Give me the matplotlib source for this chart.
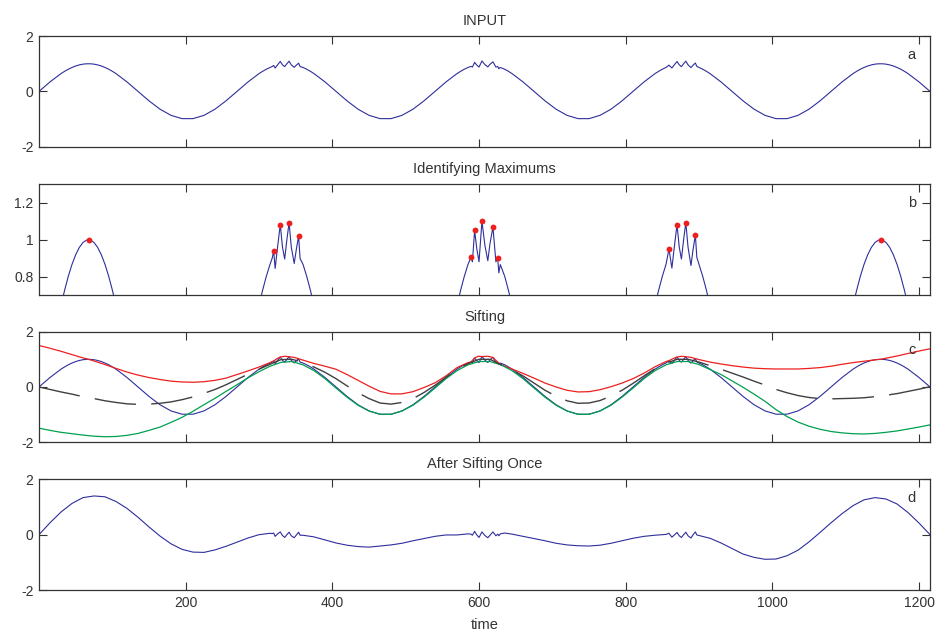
"""EMD sifting illustration: input, maxima, envelopes, result after one sift."""

import matplotlib
matplotlib.use("Agg")
import matplotlib.pyplot as plt

sig_t = [0, 15, 30, 35, 40, 45, 50, 55, 60, 65, 70, 75, 80, 85, 90, 95, 100, 105,
         120, 135, 150, 165, 180, 195, 210, 225, 240, 255, 270, 285,
         300, 305, 310, 315, 318, 320, 322, 325, 329, 332, 335, 338, 341, 344,
         348, 351, 354, 356, 360, 365, 370, 375,
         390, 405, 420, 435, 450, 465, 480, 495, 510, 525, 540, 555,
         570, 575, 580, 585, 589, 591, 594, 597, 600, 604, 608, 612, 615, 619,
         623, 625.5, 627, 629, 635, 640, 645,
         660, 675, 690, 705, 720, 735, 750, 765, 780, 795, 810, 825,
         840, 845, 850, 855, 859, 863, 866, 870, 873, 876, 879, 882, 885,
         889, 892, 895, 897, 900, 905, 910, 915,
         930, 945, 960, 975, 990, 1005, 1020, 1035, 1050, 1065, 1080, 1095,
         1110, 1115, 1120, 1125, 1130, 1135, 1140, 1145, 1150, 1155, 1160,
         1165, 1170, 1175, 1180, 1185, 1200, 1215]
sig_v = [0.000, 0.342, 0.643, 0.727, 0.802, 0.866, 0.918, 0.958, 0.985, 0.998,
         0.998, 0.985, 0.958, 0.918, 0.866, 0.802, 0.727, 0.643,
         0.342, 0.000, -0.342, -0.643, -0.866, -0.985, -0.985, -0.866, -0.643,
         -0.342, 0.000, 0.342,
         0.643, 0.727, 0.802, 0.866, 0.900, 0.938, 0.844, 0.950, 1.082, 0.960,
         0.895, 1.000, 1.093, 0.960, 0.871, 0.950, 1.019, 0.898, 0.866, 0.802,
         0.727, 0.643,
         0.342, 0.000, -0.342, -0.643, -0.866, -0.985, -0.985, -0.866, -0.643,
         -0.342, 0.000, 0.342,
         0.643, 0.727, 0.802, 0.866, 0.904, 0.880, 1.050, 0.950, 0.880, 1.100,
         0.970, 0.886, 0.980, 1.068, 0.880, 0.898, 0.820, 0.865, 0.802, 0.727,
         0.643,
         0.342, 0.000, -0.342, -0.643, -0.866, -0.985, -0.985, -0.866, -0.643,
         -0.342, 0.000, 0.342,
         0.643, 0.727, 0.802, 0.866, 0.949, 0.846, 0.950, 1.082, 0.960, 0.895,
         1.000, 1.093, 0.960, 0.860, 0.950, 1.026, 0.904, 0.866, 0.802, 0.727,
         0.643,
         0.342, 0.000, -0.342, -0.643, -0.866, -0.985, -0.985, -0.866, -0.643,
         -0.342, 0.000, 0.342,
         0.643, 0.727, 0.802, 0.866, 0.918, 0.958, 0.985, 0.998, 0.998, 0.985,
         0.958, 0.918, 0.866, 0.802, 0.727, 0.643, 0.342, 0.000]

# ---- local maxima (panel b) ----
max_t = [67.5, 320, 329, 341, 354, 589, 594, 604, 619, 625.5,
         859, 870, 882, 895, 1147.5]
max_v = [1.000, 0.938, 1.082, 1.093, 1.019, 0.904, 1.050, 1.100, 1.068, 0.898,
         0.949, 1.082, 1.093, 1.026, 1.000]

# ---- upper envelope (panel c, red) ----
upper_t = [0, 15, 30, 45, 60, 67.5, 75, 90, 105, 120, 135, 150, 165, 180, 195,
           210, 225, 240, 255, 270, 285, 300, 315, 320, 325, 329, 335, 341,
           348, 354, 360, 375, 390, 405, 420, 435, 450, 465, 480, 495, 510,
           525, 540, 555, 570, 585, 589, 594, 599, 604, 612, 619, 625.5, 630,
           645, 660, 675, 690, 705, 720, 735, 750, 765, 780, 795, 810, 825,
           840, 855, 859, 865, 870, 876, 882, 889, 895, 900, 915, 930, 945,
           960, 975, 990, 1005, 1020, 1035, 1050, 1065, 1080, 1095, 1110,
           1125, 1140, 1147.5, 1155, 1170, 1185, 1200, 1215]
upper_v = [1.50, 1.40, 1.29, 1.17, 1.05, 1.00, 0.94, 0.81, 0.67, 0.54, 0.43,
           0.34, 0.27, 0.21, 0.18, 0.17, 0.19, 0.24, 0.32, 0.45, 0.58, 0.72,
           0.88, 0.94, 1.03, 1.082, 1.11, 1.093, 1.07, 1.02, 0.97, 0.85, 0.75,
           0.64, 0.45, 0.24, 0.03, -0.16, -0.25, -0.25, -0.17, -0.02, 0.15,
           0.40, 0.70, 0.88, 0.904, 1.05, 1.11, 1.10, 1.11, 1.068, 0.898, 0.80,
           0.65, 0.49, 0.32, 0.14, 0.00, -0.12, -0.18, -0.17, -0.10, 0.01,
           0.14, 0.30, 0.50, 0.73, 0.92, 0.949, 1.03, 1.082, 1.11, 1.093, 1.07,
           1.026, 0.99, 0.90, 0.83, 0.77, 0.72, 0.68, 0.66, 0.65, 0.65, 0.65,
           0.67, 0.70, 0.75, 0.82, 0.88, 0.93, 0.98, 1.00, 1.04, 1.12, 1.21,
           1.30, 1.38]

# ---- lower envelope and mean (panel c, green / black dashed) ----
env_t = list(range(0, 1216, 15))
lower_v = [-1.49, -1.57, -1.64, -1.69, -1.74, -1.78, -1.80, -1.79, -1.75,
           -1.68, -1.57, -1.45, -1.28, -1.10, -0.88, -0.64, -0.41, -0.16,
           0.08, 0.33, 0.55, 0.75, 0.89, 0.92, 0.80, 0.59, 0.30, -0.04, -0.37,
           -0.66, -0.87, -0.99, -0.99, -0.87, -0.66, -0.37, -0.04, 0.30, 0.59,
           0.80, 0.92, 0.92, 0.80, 0.59, 0.30, -0.04, -0.37, -0.66, -0.87,
           -0.99, -0.99, -0.87, -0.66, -0.37, -0.04, 0.30, 0.59, 0.80, 0.92,
           0.92, 0.81, 0.63, 0.45, 0.22, -0.01, -0.26, -0.52, -0.82, -1.07,
           -1.27, -1.42, -1.53, -1.61, -1.66, -1.69, -1.70, -1.68, -1.64,
           -1.59, -1.52, -1.45, -1.37]
mean_v = [0.00, -0.09, -0.18, -0.26, -0.35, -0.42, -0.50, -0.56, -0.61, -0.63,
          -0.62, -0.59, -0.54, -0.46, -0.36, -0.23, -0.09, 0.08, 0.27, 0.46,
          0.64, 0.82, 0.99, 1.00, 0.89, 0.72, 0.53, 0.30, 0.04, -0.21, -0.42,
          -0.58, -0.62, -0.56, -0.42, -0.20, 0.06, 0.35, 0.65, 0.84, 1.00,
          1.00, 0.80, 0.62, 0.40, 0.14, -0.12, -0.33, -0.50, -0.59, -0.58,
          -0.49, -0.33, -0.12, 0.13, 0.40, 0.66, 0.86, 1.00, 1.00, 0.90, 0.77,
          0.64, 0.50, 0.36, 0.21, 0.07, -0.09, -0.21, -0.31, -0.38, -0.42,
          -0.43, -0.42, -0.41, -0.39, -0.35, -0.30, -0.24, -0.16, -0.08, 0.01]

# ---- after sifting once (panel d) ----
d_t = [0, 15, 30, 45, 60, 75, 90, 105, 120, 135, 150, 165, 180, 195, 210, 225,
       240, 255, 270, 285, 300, 315, 318, 320, 322, 325, 329, 332, 335, 338,
       341, 344, 348, 351, 354, 356, 360, 375, 390, 405, 420, 435, 450, 465,
       480, 495, 510, 525, 540, 555, 570, 585, 589, 591, 594, 597, 600, 604,
       608, 612, 615, 619, 623, 625.5, 627, 629, 635, 645, 660, 675, 690,
       705, 720, 735, 750, 765, 780, 795, 810, 825, 840, 855, 859, 863, 866,
       870, 873, 876, 879, 882, 885, 889, 892, 895, 897, 900, 915, 930, 945,
       960, 975, 990, 1005, 1020, 1035, 1050, 1065, 1080, 1095, 1110, 1125,
       1140, 1155, 1170, 1185, 1200, 1215]
d_v = [0.00, 0.43, 0.82, 1.13, 1.34, 1.40, 1.37, 1.20, 0.95, 0.63, 0.28, -0.05,
       -0.33, -0.53, -0.63, -0.64, -0.55, -0.42, -0.27, -0.12, 0.00, 0.05,
       0.04, 0.06, -0.06, 0.02, 0.10, -0.03, -0.10, 0.00, 0.09, -0.04, -0.11,
       -0.01, 0.09, -0.02, -0.02, -0.08, -0.19, -0.30, -0.38, -0.43, -0.45,
       -0.41, -0.37, -0.31, -0.22, -0.14, -0.06, -0.01, -0.01, 0.03, 0.02,
       -0.02, 0.12, -0.01, -0.10, 0.10, -0.03, -0.11, -0.02, 0.10, -0.04,
       0.02, -0.04, 0.03, 0.06, 0.02, -0.06, -0.14, -0.22, -0.31, -0.37,
       -0.40, -0.41, -0.38, -0.31, -0.22, -0.13, -0.06, -0.02, 0.01, 0.05,
       -0.09, -0.02, 0.08, -0.04, -0.10, 0.00, 0.09, -0.04, -0.12, 0.00,
       0.10, -0.01, -0.03, -0.13, -0.30, -0.50, -0.70, -0.82, -0.89, -0.88,
       -0.76, -0.56, -0.26, 0.08, 0.43, 0.76, 1.05, 1.26, 1.34, 1.29, 1.11,
       0.80, 0.42, 0.00]

x_ticks = [200, 400, 600, 800, 1000, 1200]

BLUE = "#2e2e9c"
RED = "#ee1f1f"
GREEN = "#00a04e"
DARK = "#404040"

plt.rcParams["font.family"] = ["Liberation Sans", "DejaVu Sans"]
plt.rcParams["font.size"] = 10
plt.rcParams["axes.unicode_minus"] = False
plt.rcParams["lines.scale_dashes"] = False

fig = plt.figure(figsize=(9.42, 6.34), dpi=100)
left, width, height = 0.0414, 0.9459, 0.1745
bottoms = [0.7686, 0.5347, 0.3024, 0.0694]
axes = [fig.add_axes([left, b, width, height]) for b in bottoms]


def style(ax, title, letter, yticks, ylim, ylabels=None):
    ax.set_xlim(0, 1215)
    ax.set_ylim(*ylim)
    ax.set_xticks(x_ticks)
    ax.set_yticks(yticks)
    if ylabels is not None:
        ax.set_yticklabels(ylabels)
    ax.tick_params(direction="in", top=True, right=True, length=6, width=0.8,
                   colors="#333333", labelsize=10, pad=4)
    for sp in ax.spines.values():
        sp.set_color("#333333")
        sp.set_linewidth(0.9)
    ax.set_title(title, fontsize=10.5, color="#333333", pad=8)
    ax.text(0.984, 0.895, letter, transform=ax.transAxes, ha="right", va="top",
            fontsize=10.5, color="#333333")


ax = axes[0]
ax.plot(sig_t, sig_v, color=BLUE, lw=0.8)
style(ax, "INPUT", "a", [-2, 0, 2], (-2, 2))
ax.set_xticklabels([])

ax = axes[1]
ax.plot(sig_t, sig_v, color=BLUE, lw=0.8)
ax.plot(max_t, max_v, "o", color=RED, ms=4.2, mec="none")
style(ax, "Identifying Maximums", "b", [0.8, 1.0, 1.2], (0.7, 1.3),
      ["0.8", "1", "1.2"])
ax.set_xticklabels([])

ax = axes[2]
ax.plot(sig_t, sig_v, color=BLUE, lw=0.8)
ax.plot(upper_t, upper_v, color=RED, lw=0.9)
ax.plot(env_t, lower_v, color=GREEN, lw=0.9)
ax.plot(env_t, mean_v, color=DARK, lw=1.0, linestyle=(0, (30, 11)))
style(ax, "Sifting", "c", [-2, 0, 2], (-2, 2))
ax.set_xticklabels([])

ax = axes[3]
ax.plot(d_t, d_v, color=BLUE, lw=0.8)
style(ax, "After Sifting Once", "d", [-2, 0, 2], (-2, 2))
ax.set_xlabel("time", fontsize=10.5, color="#333333", labelpad=6)

fig.savefig("out.png", dpi=100)
